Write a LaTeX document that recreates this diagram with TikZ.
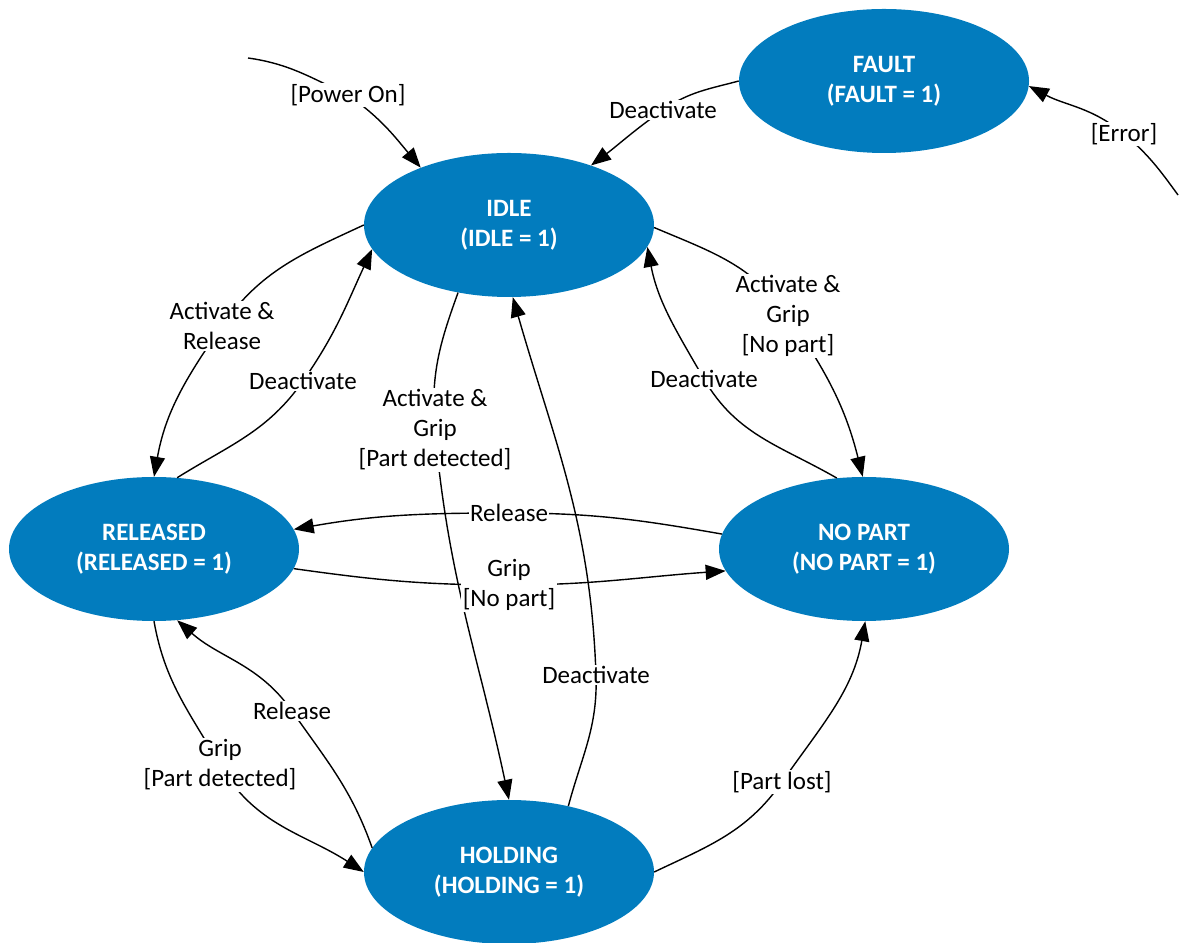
\documentclass[tikz,border=0pt]{standalone}
\usepackage{fontspec}
\setmainfont{Carlito}
\usetikzlibrary{arrows.meta,shapes.geometric}
\definecolor{stateblue}{RGB}{2,124,190}
\begin{document}
\begin{tikzpicture}[x=1pt,y=1pt,
  state/.style={ellipse, fill=stateblue, minimum width=290pt, minimum height=144pt, inner sep=0pt, text=white, font=\fontsize{25}{30}\selectfont\bfseries, align=center},
  lbl/.style={fill=white, inner sep=1.5pt, font=\fontsize{25}{30}\selectfont, align=center},
  arr/.style={line width=1.4pt, -{Triangle[length=20pt,width=15pt]}},
  ]
\useasboundingbox (0,0) rectangle (1180,942);
% states
\node[state] (fault) at (884,861) {FAULT\\(FAULT = 1)};
\node[state] (idle) at (509,717) {IDLE\\(IDLE = 1)};
\node[state] (released) at (154,393) {RELEASED\\(RELEASED = 1)};
\node[state] (nopart) at (864,393) {NO PART\\(NO PART = 1)};
\node[state] (holding) at (509,70) {HOLDING\\(HOLDING = 1)};
% free ends and label points
\coordinate (pw) at (248,884);
\coordinate (er) at (1178,747);
\coordinate (l1) at (348,847);
\coordinate (l2) at (663,832);
\coordinate (l3) at (1124,808);
\coordinate (l4) at (222,616);
\coordinate (l5) at (303,561);
\coordinate (l6) at (435,512);
\coordinate (l7) at (596,267);
\coordinate (l8) at (788,626);
\coordinate (l9) at (704,563);
\coordinate (l10) at (509,429);
\coordinate (l11) at (509,357);
\coordinate (l12) at (220,177);
\coordinate (l13) at (292,231);
\coordinate (l14) at (782,160);
% connectors
\draw[arr] (pw) to[out=-8,in=155] (l1) to[out=-35,in=130] (idle.147);
\draw[arr] (fault.180) to[out=195,in=35] (l2) to[out=215,in=37] (idle.36.5);
\draw[arr] (er) to[out=126,in=-40] (l3) to[out=140,in=-28] (fault.-2);
\draw[arr] (idle.180) to[out=205,in=55] (l4) to[out=235,in=80] (released.90);
\draw[arr] (released.72) to[out=32,in=235] (l5) to[out=55,in=245] (idle.190);
\draw[arr] (idle.233) to[out=250,in=95] (l6) to[out=275,in=102] (holding.90);
\draw[arr] (holding.48) to[out=75,in=272] (l7) to[out=92,in=286] (idle.273);
\draw[arr] (idle.-1) to[out=-23,in=125] (l8) to[out=-55,in=104] (nopart.91);
\draw[arr] (nopart.111) to[out=150,in=300] (l9) to[out=120,in=281] (idle.-9.5);
\draw[arr] (nopart.174) to[out=170,in=0] (l10) to[out=180,in=10] (released.8);
\draw[arr] (released.-8.5) to[out=-8,in=180] (l11) to[out=0,in=184] (nopart.189);
\draw[arr] (released.270) to[out=280,in=120] (l12) to[out=300,in=147] (holding.180);
\draw[arr] (holding.170) to[out=109.5,in=-55] (l13) to[out=125,in=-41.5] (released.-72.5);
\draw[arr] (holding.0) to[out=25.5,in=235] (l14) to[out=55,in=260] (nopart.271);
% labels
\node[lbl] (t1) at (l1) {[Power On]};
\node[lbl] (t2) at (l2) {Deactivate};
\node[lbl] (t3) at (l3) {[Error]};
\node[lbl] (t4) at (l4) {Activate \&\\Release};
\node[lbl] (t5) at (l5) {Deactivate};
\node[lbl] (t6) at (l6) {Activate \&\\Grip\\{[Part detected]}};
\node[lbl] (t7) at (l7) {Deactivate};
\node[lbl] (t8) at (l8) {Activate \&\\Grip\\{[No part]}};
\node[lbl] (t9) at (l9) {Deactivate};
\node[lbl,inner sep=1pt] (t10) at (l10) {Release};
\node[lbl] (t11) at (l11) {Grip\\{[No part]}};
\node[lbl] (t12) at (l12) {Grip\\{[Part detected]}};
\node[lbl] (t13) at (l13) {Release};
\node[lbl] (t14) at (l14) {[Part lost]};
\end{tikzpicture}
\end{document}
